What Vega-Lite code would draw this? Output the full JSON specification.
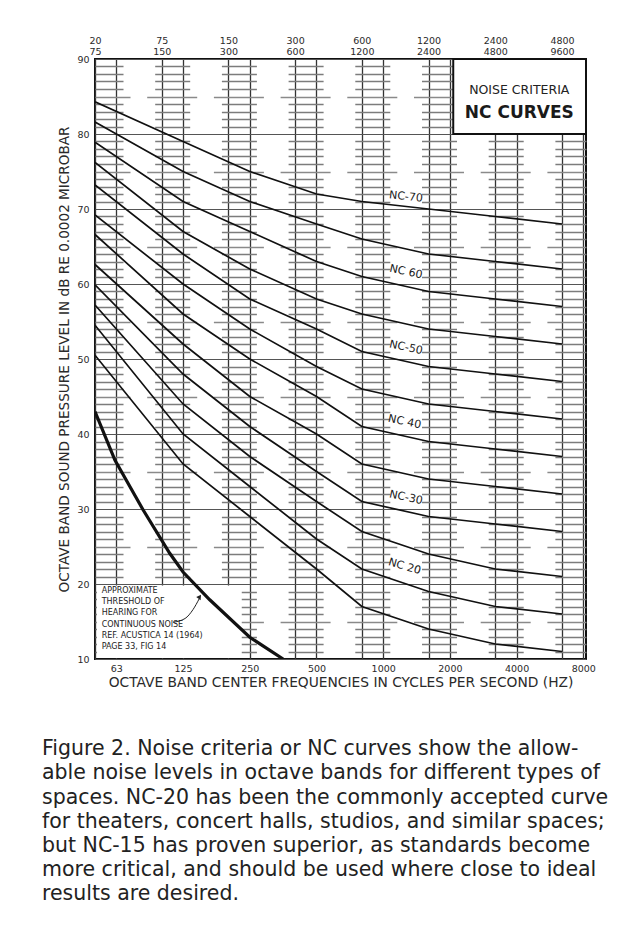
{
  "$schema": "https://vega.github.io/schema/vega-lite/v6.json",
  "width": 491,
  "height": 600,
  "autosize": {"type": "none"},
  "padding": {"left": 95, "top": 59, "right": 47, "bottom": 271},
  "background": "white",
  "view": {"stroke": "#111", "strokeWidth": 2},
  "config": {"font": "DejaVu Sans", "axis": {"labelColor": "#2a2a2a", "titleColor": "#2a2a2a"}},
  "title": {
    "text": [
      "Figure 2. Noise criteria or NC curves show the allow-",
      "able noise levels in octave bands for different types of",
      "spaces. NC-20 has been the commonly accepted curve",
      "for theaters, concert halls, studios, and similar spaces;",
      "but NC-15 has proven superior, as standards become",
      "more critical, and should be used where close to ideal",
      "results are desired."
    ],
    "orient": "bottom",
    "anchor": "start",
    "frame": "group",
    "dx": -53,
    "offset": 50,
    "fontSize": 20.5,
    "fontWeight": "normal",
    "font": "DejaVu Sans",
    "color": "#222",
    "lineHeight": 24.2
  },
  "datasets": {
    "nc": [
      {"curve": "NC-70", "u": 0, "db": 84.3}, {"curve": "NC-70", "u": 1.32, "db": 79}, {"curve": "NC-70", "u": 2.32, "db": 75}, {"curve": "NC-70", "u": 3.32, "db": 72}, {"curve": "NC-70", "u": 4.0, "db": 71}, {"curve": "NC-70", "u": 5.0, "db": 70}, {"curve": "NC-70", "u": 6.0, "db": 69}, {"curve": "NC-70", "u": 7.0, "db": 68},
      {"curve": "NC-65", "u": 0, "db": 81.6}, {"curve": "NC-65", "u": 1.32, "db": 75}, {"curve": "NC-65", "u": 2.32, "db": 71}, {"curve": "NC-65", "u": 3.32, "db": 68}, {"curve": "NC-65", "u": 4.0, "db": 66}, {"curve": "NC-65", "u": 5.0, "db": 64}, {"curve": "NC-65", "u": 6.0, "db": 63}, {"curve": "NC-65", "u": 7.0, "db": 62},
      {"curve": "NC-60", "u": 0, "db": 78.9}, {"curve": "NC-60", "u": 1.32, "db": 71}, {"curve": "NC-60", "u": 2.32, "db": 67}, {"curve": "NC-60", "u": 3.32, "db": 63}, {"curve": "NC-60", "u": 4.0, "db": 61}, {"curve": "NC-60", "u": 5.0, "db": 59}, {"curve": "NC-60", "u": 6.0, "db": 58}, {"curve": "NC-60", "u": 7.0, "db": 57},
      {"curve": "NC-55", "u": 0, "db": 76.2}, {"curve": "NC-55", "u": 1.32, "db": 67}, {"curve": "NC-55", "u": 2.32, "db": 62}, {"curve": "NC-55", "u": 3.32, "db": 58}, {"curve": "NC-55", "u": 4.0, "db": 56}, {"curve": "NC-55", "u": 5.0, "db": 54}, {"curve": "NC-55", "u": 6.0, "db": 53}, {"curve": "NC-55", "u": 7.0, "db": 52},
      {"curve": "NC-50", "u": 0, "db": 73.2}, {"curve": "NC-50", "u": 1.32, "db": 64}, {"curve": "NC-50", "u": 2.32, "db": 58}, {"curve": "NC-50", "u": 3.32, "db": 54}, {"curve": "NC-50", "u": 4.0, "db": 51}, {"curve": "NC-50", "u": 5.0, "db": 49}, {"curve": "NC-50", "u": 6.0, "db": 48}, {"curve": "NC-50", "u": 7.0, "db": 47},
      {"curve": "NC-45", "u": 0, "db": 69.2}, {"curve": "NC-45", "u": 1.32, "db": 60}, {"curve": "NC-45", "u": 2.32, "db": 54}, {"curve": "NC-45", "u": 3.32, "db": 49}, {"curve": "NC-45", "u": 4.0, "db": 46}, {"curve": "NC-45", "u": 5.0, "db": 44}, {"curve": "NC-45", "u": 6.0, "db": 43}, {"curve": "NC-45", "u": 7.0, "db": 42},
      {"curve": "NC-40", "u": 0, "db": 66.6}, {"curve": "NC-40", "u": 1.32, "db": 56}, {"curve": "NC-40", "u": 2.32, "db": 50}, {"curve": "NC-40", "u": 3.32, "db": 45}, {"curve": "NC-40", "u": 4.0, "db": 41}, {"curve": "NC-40", "u": 5.0, "db": 39}, {"curve": "NC-40", "u": 6.0, "db": 38}, {"curve": "NC-40", "u": 7.0, "db": 37},
      {"curve": "NC-35", "u": 0, "db": 62.6}, {"curve": "NC-35", "u": 1.32, "db": 52}, {"curve": "NC-35", "u": 2.32, "db": 45}, {"curve": "NC-35", "u": 3.32, "db": 40}, {"curve": "NC-35", "u": 4.0, "db": 36}, {"curve": "NC-35", "u": 5.0, "db": 34}, {"curve": "NC-35", "u": 6.0, "db": 33}, {"curve": "NC-35", "u": 7.0, "db": 32},
      {"curve": "NC-30", "u": 0, "db": 59.9}, {"curve": "NC-30", "u": 1.32, "db": 48}, {"curve": "NC-30", "u": 2.32, "db": 41}, {"curve": "NC-30", "u": 3.32, "db": 35}, {"curve": "NC-30", "u": 4.0, "db": 31}, {"curve": "NC-30", "u": 5.0, "db": 29}, {"curve": "NC-30", "u": 6.0, "db": 28}, {"curve": "NC-30", "u": 7.0, "db": 27},
      {"curve": "NC-25", "u": 0, "db": 57.2}, {"curve": "NC-25", "u": 1.32, "db": 44}, {"curve": "NC-25", "u": 2.32, "db": 37}, {"curve": "NC-25", "u": 3.32, "db": 31}, {"curve": "NC-25", "u": 4.0, "db": 27}, {"curve": "NC-25", "u": 5.0, "db": 24}, {"curve": "NC-25", "u": 6.0, "db": 22}, {"curve": "NC-25", "u": 7.0, "db": 21},
      {"curve": "NC-20", "u": 0, "db": 54.5}, {"curve": "NC-20", "u": 1.32, "db": 40}, {"curve": "NC-20", "u": 2.32, "db": 33}, {"curve": "NC-20", "u": 3.32, "db": 26}, {"curve": "NC-20", "u": 4.0, "db": 22}, {"curve": "NC-20", "u": 5.0, "db": 19}, {"curve": "NC-20", "u": 6.0, "db": 17}, {"curve": "NC-20", "u": 7.0, "db": 16},
      {"curve": "NC-15", "u": 0, "db": 50.5}, {"curve": "NC-15", "u": 1.32, "db": 36}, {"curve": "NC-15", "u": 2.32, "db": 29}, {"curve": "NC-15", "u": 3.32, "db": 22}, {"curve": "NC-15", "u": 4.0, "db": 17}, {"curve": "NC-15", "u": 5.0, "db": 14}, {"curve": "NC-15", "u": 6.0, "db": 12}, {"curve": "NC-15", "u": 7.0, "db": 11}
    ],
    "threshold": [
      {"u": 0, "db": 43}, {"u": 0.3, "db": 36.5}, {"u": 0.72, "db": 29.9}, {"u": 1.12, "db": 24.1},
      {"u": 1.32, "db": 21.6}, {"u": 1.72, "db": 17.9}, {"u": 2.32, "db": 12.9}, {"u": 2.82, "db": 10}
    ],
    "arrow": [
      {"u": 1.17, "db": 14.9}, {"u": 1.35, "db": 15.4}, {"u": 1.47, "db": 16.6}, {"u": 1.56, "db": 18.0}
    ],
    "labels": [
      {"label": "NC-70", "u": 4.66, "db": 71.6},
      {"label": "NC 60", "u": 4.66, "db": 61.6},
      {"label": "NC-50", "u": 4.66, "db": 51.5},
      {"label": "NC 40", "u": 4.64, "db": 41.6},
      {"label": "NC-30", "u": 4.66, "db": 31.5},
      {"label": "NC 20", "u": 4.64, "db": 22.3}
    ]
  },
  "layer": [
    {
      "data": {"values": [{}]},
      "mark": {"type": "point", "opacity": 0},
      "encoding": {
        "x": {"datum": 1, "type": "quantitative", "scale": {"domain": [0, 7.36], "nice": false, "zero": false}, "axis": null},
        "y": {"datum": 50, "type": "quantitative", "scale": {"domain": [10, 90], "nice": false, "zero": false},
          "axis": {"orient": "left", "values": [11,12,13,14,16,17,18,19,21,22,23,24,26,27,28,29,31,32,33,34,36,37,38,39,41,42,43,44,46,47,48,49,51,52,53,54,56,57,58,59,61,62,63,64,66,67,68,69,71,72,73,74,76,77,78,79,81,82,83,84,86,87,88,89],
            "grid": true, "gridColor": "#7c7c7c", "gridWidth": 1.4, "gridDash": [35, 31.7], "gridDashOffset": 7,
            "labels": false, "ticks": false, "domain": false, "title": null}}
      }
    },
    {
      "data": {"values": [{}]},
      "mark": {"type": "point", "opacity": 0},
      "encoding": {
        "x": {"datum": 1, "type": "quantitative", "scale": {"domain": [0, 7.36], "nice": false, "zero": false}, "axis": null},
        "y": {"datum": 50, "type": "quantitative", "scale": {"domain": [10, 90], "nice": false, "zero": false},
          "axis": {"orient": "left", "values": [15, 25, 35, 45, 55, 65, 75, 85],
            "grid": true, "gridColor": "#8a8a8a", "gridWidth": 1.4, "gridDash": [50, 16.7], "gridDashOffset": 15,
            "labels": false, "ticks": false, "domain": false, "title": null}}
      }
    },
    {
      "data": {"values": [{}]},
      "mark": {"type": "point", "opacity": 0},
      "encoding": {
        "x": {"datum": 1, "type": "quantitative", "scale": {"domain": [0, 7.36], "nice": false, "zero": false},
          "axis": {"orient": "top", "values": [0, 1, 2, 3, 4, 5, 6, 7],
            "labelExpr": "[['20','75'],['75','150'],['150','300'],['300','600'],['600','1200'],['1200','2400'],['2400','4800'],['4800','9600']][round(datum.value)]",
            "grid": true, "gridColor": "#333", "gridWidth": 1.3, "ticks": false, "domain": false,
            "labelFontSize": 9.5, "labelPadding": 14, "labelLineHeight": 11, "labelFlush": false, "labelOverlap": false, "title": null}},
        "y": {"datum": 50, "type": "quantitative", "scale": {"domain": [10, 90], "nice": false, "zero": false}, "axis": null}
      }
    },
    {
      "data": {"values": [{}]},
      "mark": {"type": "rect", "fill": "white", "stroke": null},
      "encoding": {
        "x": {"datum": 0.03, "type": "quantitative", "scale": {"domain": [0, 7.36], "nice": false, "zero": false}, "axis": null},
        "x2": {"datum": 2.2},
        "y": {"datum": 19.8, "type": "quantitative", "scale": {"domain": [10, 90], "nice": false, "zero": false}, "axis": null},
        "y2": {"datum": 10.15}
      }
    },
    {
      "data": {"name": "nc"},
      "mark": {"type": "line", "color": "#111", "strokeWidth": 1.7, "clip": true},
      "encoding": {
        "x": {"field": "u", "type": "quantitative", "scale": {"domain": [0, 7.36], "nice": false, "zero": false},
          "axis": {"orient": "bottom", "values": [0.32, 1.32, 2.32, 3.32, 4.32, 5.32, 6.32, 7.32],
            "labelExpr": "['63','125','250','500','1000','2000','4000','8000'][round(datum.value - 0.32)]",
            "grid": true, "gridColor": "#333", "gridWidth": 1.3, "ticks": false, "domain": false,
            "labelFontSize": 9.5, "labelPadding": 4, "labelFlush": false, "labelOverlap": false,
            "title": "OCTAVE BAND CENTER FREQUENCIES IN CYCLES PER SECOND (HZ)",
            "titleFontSize": 13.8, "titleFontWeight": "normal", "titlePadding": 3}},
        "y": {"field": "db", "type": "quantitative", "scale": {"domain": [10, 90], "nice": false, "zero": false},
          "axis": {"orient": "left", "values": [10, 20, 30, 40, 50, 60, 70, 80, 90],
            "grid": true, "gridColor": "#555", "gridWidth": 1.2, "ticks": false, "domain": false,
            "labelFontSize": 9.5, "labelPadding": 6,
            "title": "OCTAVE BAND SOUND PRESSURE LEVEL IN dB RE 0.0002 MICROBAR",
            "titleFontSize": 13.6, "titleFontWeight": "normal", "titlePadding": 5}},
        "detail": {"field": "curve", "type": "nominal"}
      }
    },
    {
      "data": {"name": "threshold"},
      "mark": {"type": "line", "color": "#111", "strokeWidth": 3.2, "clip": true},
      "encoding": {
        "x": {"field": "u", "type": "quantitative", "scale": {"domain": [0, 7.36], "nice": false, "zero": false}, "axis": null},
        "y": {"field": "db", "type": "quantitative", "scale": {"domain": [10, 90], "nice": false, "zero": false}, "axis": null}
      }
    },
    {
      "data": {"values": [{}]},
      "mark": {"type": "rect", "fill": "white", "stroke": "#111", "strokeWidth": 2},
      "encoding": {
        "x": {"datum": 5.37, "type": "quantitative", "scale": {"domain": [0, 7.36], "nice": false, "zero": false}, "axis": null},
        "x2": {"datum": 7.36},
        "y": {"datum": 90, "type": "quantitative", "scale": {"domain": [10, 90], "nice": false, "zero": false}, "axis": null},
        "y2": {"datum": 80}
      }
    },
    {
      "data": {"values": [{}]},
      "mark": {"type": "text", "text": "NOISE CRITERIA", "fontSize": 12.5, "color": "#222", "align": "center", "baseline": "middle"},
      "encoding": {
        "x": {"datum": 6.36, "type": "quantitative", "scale": {"domain": [0, 7.36], "nice": false, "zero": false}, "axis": null},
        "y": {"datum": 85.9, "type": "quantitative", "scale": {"domain": [10, 90], "nice": false, "zero": false}, "axis": null}
      }
    },
    {
      "data": {"values": [{}]},
      "mark": {"type": "text", "text": "NC CURVES", "fontSize": 17, "fontWeight": "bold", "color": "#1a1a1a", "align": "center", "baseline": "middle"},
      "encoding": {
        "x": {"datum": 6.36, "type": "quantitative", "scale": {"domain": [0, 7.36], "nice": false, "zero": false}, "axis": null},
        "y": {"datum": 82.8, "type": "quantitative", "scale": {"domain": [10, 90], "nice": false, "zero": false}, "axis": null}
      }
    },
    {
      "data": {"name": "labels"},
      "mark": {"type": "text", "fontSize": 11, "color": "#222", "align": "center", "baseline": "middle"},
      "encoding": {
        "x": {"field": "u", "type": "quantitative", "scale": {"domain": [0, 7.36], "nice": false, "zero": false}, "axis": null},
        "y": {"field": "db", "type": "quantitative", "scale": {"domain": [10, 90], "nice": false, "zero": false}, "axis": null},
        "text": {"field": "label"},
        "angle": {"condition": [{"test": "datum.label == 'NC-70'", "value": 6}, {"test": "datum.label == 'NC 20'", "value": 16}], "value": 12}
      }
    },
    {
      "data": {"values": [{}]},
      "mark": {"type": "text", "text": ["APPROXIMATE", "THRESHOLD OF", "HEARING FOR", "CONTINUOUS NOISE", "REF. ACUSTICA 14 (1964)", "PAGE 33, FIG 14"], "fontSize": 8, "lineHeight": 11.2, "color": "#222", "align": "left", "baseline": "top"},
      "encoding": {
        "x": {"datum": 0.1, "type": "quantitative", "scale": {"domain": [0, 7.36], "nice": false, "zero": false}, "axis": null},
        "y": {"datum": 19.6, "type": "quantitative", "scale": {"domain": [10, 90], "nice": false, "zero": false}, "axis": null}
      }
    },
    {
      "data": {"name": "arrow"},
      "mark": {"type": "line", "color": "#222", "strokeWidth": 1, "interpolate": "monotone"},
      "encoding": {
        "x": {"field": "u", "type": "quantitative", "scale": {"domain": [0, 7.36], "nice": false, "zero": false}, "axis": null},
        "y": {"field": "db", "type": "quantitative", "scale": {"domain": [10, 90], "nice": false, "zero": false}, "axis": null}
      }
    },
    {
      "data": {"values": [{}]},
      "mark": {"type": "point", "shape": "triangle-up", "filled": true, "color": "#222", "size": 28, "angle": 35, "opacity": 1},
      "encoding": {
        "x": {"datum": 1.57, "type": "quantitative", "scale": {"domain": [0, 7.36], "nice": false, "zero": false}, "axis": null},
        "y": {"datum": 18.3, "type": "quantitative", "scale": {"domain": [10, 90], "nice": false, "zero": false}, "axis": null}
      }
    }
  ],
  "resolve": {"axis": {"x": "independent", "y": "independent"}}
}
